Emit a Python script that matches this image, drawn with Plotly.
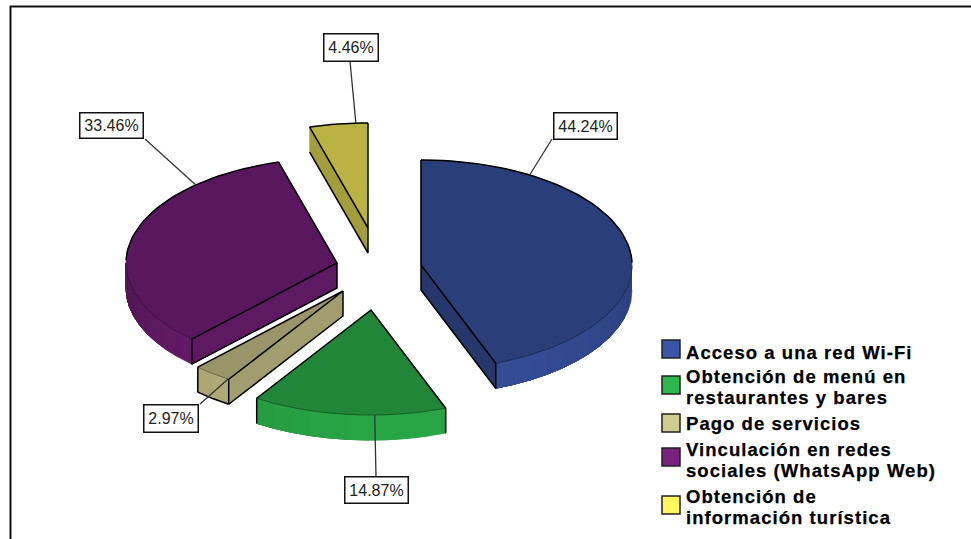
import math
import plotly.graph_objects as go

# Survey shares, in clockwise order from twelve o'clock
categories = [
    "Acceso a una red Wi-Fi",
    "Obtención de menú en<br>restaurantes y bares",
    "Pago de servicios",
    "Vinculación en redes<br>sociales (WhatsApp Web)",
    "Obtención de<br>información turística",
]
values = [44.24, 14.87, 2.97, 33.46, 4.46]
base_colors = ["#3a55a6", "#2db84d", "#d1cc8f", "#7a2180", "#fff55c"]

# Pie projection, in axis units
CENTER = (375, 269)
RX, RY, DEPTH = 211, 105, 25
EXPLODE = [(46, -4), (-4, 41), (-32, 22), (-38, -6), (-7, -41)]

# Where each leader meets its slice rim, and where its label box sits
LEADER_ANGLE = [31, 179, 213, 318, 356.7]
LEADER_END = [(552, 139), (376, 476), (200, 404), (145, 139), (350, 61)]
LABEL_POS = [(585, 125.5), (376.5, 489.5), (170.5, 418), (111.5, 125), (350.5, 47)]
LABEL_SIZE = [(62, 25), (62, 25), (53, 26), (62, 24), (53, 26)]

# Legend layout
SWATCH_X, TEXT_X = 671, 684
SWATCH_Y = [349, 385, 423, 457, 505]
TEXT_Y = [352, 388, 423.5, 461, 508]


def shade(color, factor):
    r, g, b = (int(color[i:i + 2], 16) for i in (1, 3, 5))
    return f"rgb({r * factor:.0f},{g * factor:.0f},{b * factor:.0f})"


def angle_range(start, stop, step=2.0):
    n = max(2, int(abs(stop - start) / step) + 1)
    return [start + (stop - start) * i / (n - 1) for i in range(n)]


def rim_point(apex, angle, drop=0):
    t = math.radians(angle)
    return apex[0] + RX * math.sin(t), apex[1] - RY * math.cos(t) + drop


def polygon(points, fill):
    xs, ys = zip(*points)
    return go.Scatter(
        x=list(xs), y=list(ys), mode="lines", fill="toself", fillcolor=fill,
        line=dict(color=fill, width=0.6),
        hoverinfo="skip", showlegend=False,
    )


def path(points, color="#000000", width=1.5):
    xs, ys = zip(*points)
    return go.Scatter(
        x=list(xs), y=list(ys), mode="lines",
        line=dict(color=color, width=width),
        hoverinfo="skip", showlegend=False,
    )


def draw_slice(fig, start, stop, apex, color, value):
    low = (apex[0], apex[1] + DEPTH)

    # Outer wall, only where the rim faces the viewer; each band runs to the
    # far end of the wall so that the next one paints over it without a seam
    front_from, front_to = max(start, 90), min(stop, 270)
    if front_from < front_to:
        arc = angle_range(front_from, front_to, 5)
        for k, (a, b) in enumerate(zip(arc, arc[1:])):
            mid = math.radians((a + b) / 2 - 170)
            factor = 0.68 + 0.22 * max(0, math.cos(mid))
            rest = arc[k:]
            outline = [rim_point(apex, t) for t in rest] + \
                      [rim_point(apex, t, DEPTH) for t in reversed(rest)]
            fig.add_trace(polygon(outline, shade(color, factor)))
        # Very thin slices carry a full outline around the wall
        if value < 4:
            fig.add_trace(path([rim_point(apex, t, DEPTH) for t in arc]))

    # Cut faces, visible when their normal points downwards on the page
    for edge, sign in ((start, -1), (stop, 1)):
        t = math.radians(edge)
        if sign * math.sin(t) > 1e-6:
            nx = sign * math.cos(t)
            outer = rim_point(apex, edge)
            outer_low = rim_point(apex, edge, DEPTH)
            fig.add_trace(polygon([apex, outer, outer_low, low],
                                  shade(color, 0.71 + 0.07 * nx)))
            fig.add_trace(path([outer_low, low, apex]))

    # Top face
    arc = angle_range(start, stop)
    fig.add_trace(polygon([apex] + [rim_point(apex, a) for a in arc],
                          shade(color, 0.73)))

    # Outlines: dark along the back of the rim, faint along the front
    back = [a for a in arc if math.cos(math.radians(a)) >= 0 or a > 270]
    front = [a for a in arc if a not in back]
    if front:
        fig.add_trace(path([rim_point(apex, a) for a in front],
                           shade(color, 0.45), 0.8))
    if len(back) > 1:
        split = next((i for i in range(1, len(back))
                      if back[i] - back[i - 1] > 5), None)
        runs = [back] if split is None else [back[:split], back[split:]]
        for run in runs:
            fig.add_trace(path([rim_point(apex, a) for a in run]))
    fig.add_trace(path([rim_point(apex, start), apex, rim_point(apex, stop)]))

    # Vertical edges of the wall at the ends of the visible rim
    for edge in (start, stop):
        if 90 < edge < 270:
            fig.add_trace(path([rim_point(apex, edge), rim_point(apex, edge, DEPTH)]))


fig = go.Figure()

total = sum(values)
bounds = [0.0]
for v in values:
    bounds.append(bounds[-1] + v / total * 360)
apexes = [(CENTER[0] + dx, CENTER[1] + dy) for dx, dy in EXPLODE]

for i in (4, 3, 0, 2, 1):
    draw_slice(fig, bounds[i], bounds[i + 1], apexes[i], base_colors[i], values[i])

# Leaders from rim to label box
for i in range(len(values)):
    fig.add_trace(path([rim_point(apexes[i], LEADER_ANGLE[i]), LEADER_END[i]],
                       "#333333", 1.3))

# Legend swatches
fig.add_trace(go.Scatter(
    x=[SWATCH_X] * len(values), y=SWATCH_Y, mode="markers",
    marker=dict(symbol="square", size=18, color=base_colors,
                line=dict(color="#222222", width=1.5)),
    hoverinfo="skip", showlegend=False,
))

annotations = []
for v, (x, y), (w, h) in zip(values, LABEL_POS, LABEL_SIZE):
    annotations.append(dict(
        x=x, y=y, text=f"{v:.2f}%", showarrow=False, xanchor="center", yanchor="middle",
        width=w, height=h, align="center", valign="middle", bgcolor="#ffffff",
        bordercolor="#111111", borderwidth=1.5, borderpad=0,
        font=dict(family="Liberation Sans", size=16, color="#222222"),
    ))
for name, y in zip(categories, TEXT_Y):
    annotations.append(dict(
        x=TEXT_X, y=y, text=name, showarrow=False, xanchor="left", yanchor="middle",
        align="left",
        font=dict(family="Liberation Sans", size=18.5, color="#000000", weight="bold"),
    ))

fig.update_layout(
    width=971, height=539, autosize=False,
    margin=dict(l=0, r=0, t=0, b=0),
    paper_bgcolor="#ffffff", plot_bgcolor="#ffffff",
    showlegend=False,
    xaxis=dict(range=[0, 971], visible=False, fixedrange=True),
    yaxis=dict(range=[539, 0], visible=False, fixedrange=True),
    annotations=annotations,
    shapes=[
        dict(type="line", x0=10, y0=6.5, x1=971, y1=6.5, line=dict(color="#111111", width=2)),
        dict(type="line", x0=10.5, y0=6, x1=10.5, y1=539, line=dict(color="#111111", width=2)),
    ],
)

# Legend text is set with open tracking, a slight stroke and tight leading
legend_type = """
document.querySelectorAll('.annotation-text').forEach(function (el) {
  var weight = String(el.style.fontWeight);
  if (weight === '700' || weight === 'bold') {
    el.style.letterSpacing = '1.05px';
    el.style.stroke = '#000000';
    el.style.strokeWidth = '0.25px';
    el.querySelectorAll('tspan.line').forEach(function (line) {
      if (parseFloat(line.getAttribute('dy')) > 0) {
        line.setAttribute('dy', '21px');
      }
    });
  }
});
"""
fig.write_html("out.html", post_script=legend_type, config={"displayModeBar": False})
